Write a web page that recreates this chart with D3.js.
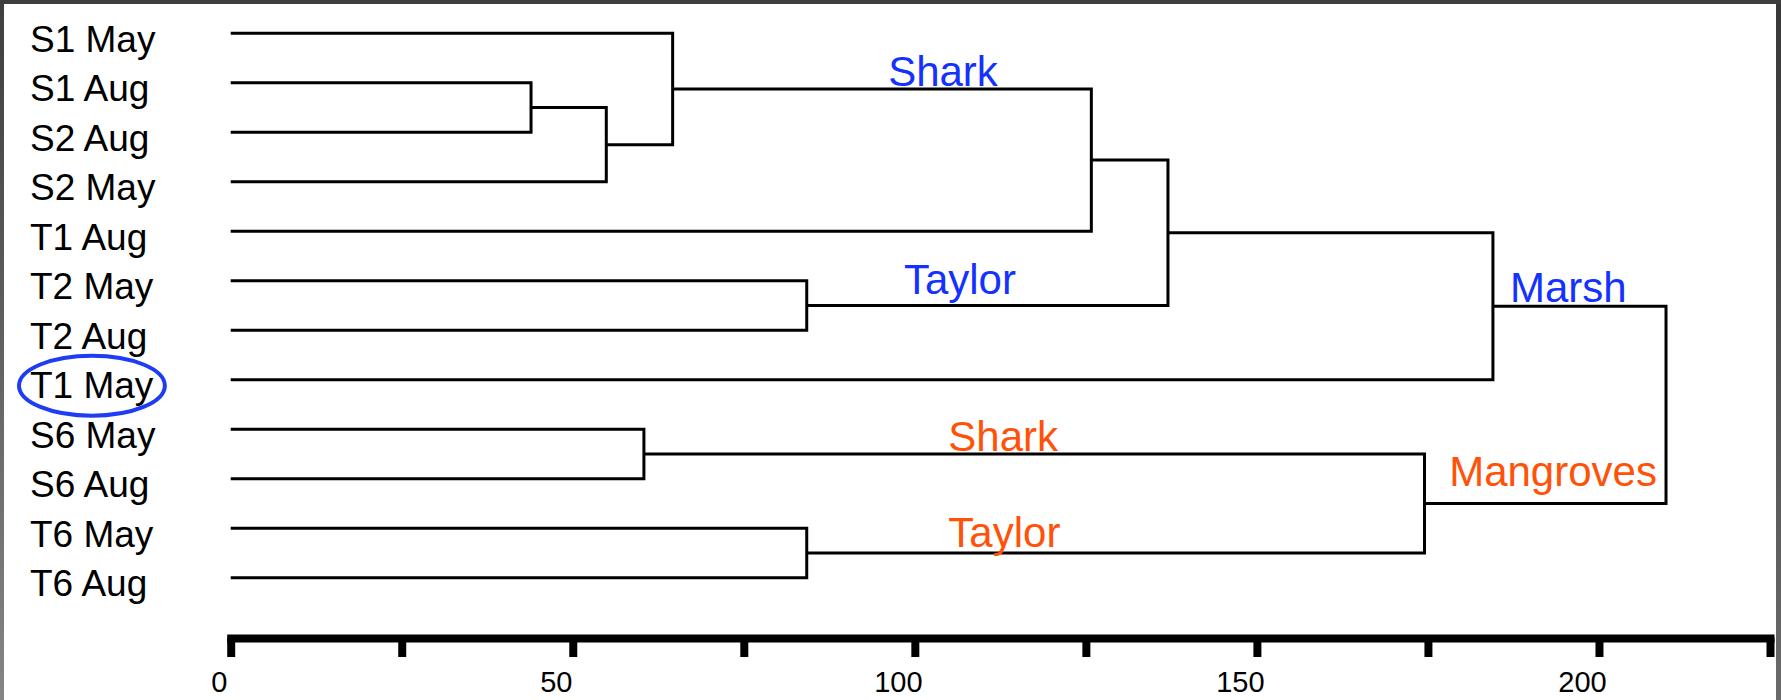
<!DOCTYPE html>
<html><head><meta charset="utf-8">
<script src="https://cdn.jsdelivr.net/npm/d3@7"></script>
<style>html,body{margin:0;padding:0;background:#fff;overflow:hidden;} svg{display:block;}</style>
</head><body>
<svg id="chart" width="1781" height="700"></svg>
<script>
// ---- data ----
const leaves = ["S1 May","S1 Aug","S2 Aug","S2 May","T1 Aug","T2 May","T2 Aug","T1 May","S6 May","S6 Aug","T6 May","T6 Aug"];
// merges (ids >= leaves.length refer to earlier merges)
const mergeA = [1, 12, 0, 14, 5, 15, 17, 8, 10, 19, 18];
const mergeB = [2, 3, 13, 4, 6, 16, 7, 9, 11, 20, 21];
const mergeHeight = [43.9, 54.9, 64.6, 125.8, 84.2, 137.0, 184.5, 60.4, 84.2, 174.5, 209.8];
const axisTicks = [0, 25, 50, 75, 100, 125, 150, 175, 200, 225];
const axisLabels = ["0", "", "50", "", "100", "", "150", "", "200", ""];
const groupNames = ["Shark", "Taylor", "Marsh", "Shark", "Taylor", "Mangroves"];
const groupHabitat = ["marsh", "marsh", "marsh", "mangrove", "mangrove", "mangrove"];
const groupAtValue = [96.1, 98.4, 187.0, 104.9, 104.9, 178.1];
const groupAtLeaf = [1.065, 5.274, 5.43, 8.44, 10.386, 9.147];
const highlightedLeaf = "T1 May";

// ---- layout ----
const W = 1781, H = 700;
const svg = d3.select("#chart");
const font = "'Liberation Sans', Arial, Helvetica, sans-serif";
const colors = {marsh: "#1432ff", mangrove: "#ff5208"};

svg.append("rect").attr("width", W).attr("height", H).attr("fill", "#fff");

const x = d3.scaleLinear().domain([0, 225]).range([230.7, 1770]);
const y = d3.scaleLinear().domain([0, leaves.length - 1]).range([33.3, 577.7]);

const n = leaves.length;
const nodeH = leaves.map(() => 0);
const nodeY = leaves.map((d, i) => y(i));
mergeHeight.forEach((h, k) => {
  nodeH[n + k] = h;
  nodeY[n + k] = (nodeY[mergeA[k]] + nodeY[mergeB[k]]) / 2;
});

const g = svg.append("g");
g.selectAll("path.link").data(mergeHeight).join("path")
  .attr("class", "link")
  .attr("d", (h, k) => {
    const a = mergeA[k], b = mergeB[k];
    return `M${x(nodeH[a])},${nodeY[a]}H${x(h)}V${nodeY[b]}H${x(nodeH[b])}`;
  })
  .attr("fill", "none").attr("stroke", "#000").attr("stroke-width", 3);

// leaf labels
const lbl = svg.append("g").selectAll("text").data(leaves).join("text")
  .attr("x", 30).attr("y", (d, i) => y(i) + 18.5)
  .attr("font-family", font).attr("font-size", 37).attr("fill", "#000")
  .text(d => d);

// highlight ellipse
lbl.filter(d => d === highlightedLeaf).each(function(d) {
  const bb = this.getBBox();
  const i = leaves.indexOf(d);
  svg.append("ellipse")
    .attr("cx", bb.x + bb.width / 2).attr("cy", y(i) + 6)
    .attr("rx", bb.width / 2 + 11).attr("ry", 30)
    .attr("fill", "none").attr("stroke", "#1f3cf5").attr("stroke-width", 4);
});

// group labels
svg.append("g").selectAll("text").data(groupNames).join("text")
  .attr("x", (d, i) => x(groupAtValue[i]))
  .attr("y", (d, i) => y(groupAtLeaf[i]))
  .attr("font-family", font).attr("font-size", 42)
  .attr("fill", (d, i) => colors[groupHabitat[i]])
  .text(d => d);

// axis
const ax = svg.append("g").attr("transform", "translate(0,638)")
  .call(d3.axisBottom(x).tickValues(axisTicks).tickSize(19).tickSizeOuter(0)
    .tickFormat((d, i) => axisLabels[i]));
ax.attr("font-size", 29).attr("font-family", font);
ax.select(".domain").attr("stroke", "#000").attr("stroke-width", 8).attr("stroke-linecap", "square");
ax.selectAll(".tick line").attr("stroke", "#000").attr("stroke-width", 8);
ax.selectAll(".tick text").attr("y", 54).attr("dy", 0).attr("dx", (d) => d === 0 ? -12 : -17)
  .attr("font-family", font).attr("font-size", 29).attr("fill", "#000");

// window frame
const defs = svg.append("defs");
const lg = defs.append("linearGradient").attr("id", "lgl").attr("x1", 0).attr("y1", 0).attr("x2", 0).attr("y2", 1);
lg.append("stop").attr("offset", 0).attr("stop-color", "#3e3e3e");
lg.append("stop").attr("offset", 1).attr("stop-color", "#858585");
const rg = defs.append("linearGradient").attr("id", "lgr").attr("x1", 0).attr("y1", 0).attr("x2", 0).attr("y2", 1);
rg.append("stop").attr("offset", 0).attr("stop-color", "#383838");
rg.append("stop").attr("offset", 1).attr("stop-color", "#6a6a6a");
svg.append("rect").attr("x", 0).attr("y", 0).attr("width", 4).attr("height", H).attr("fill", "url(#lgl)");
svg.append("rect").attr("x", 1776).attr("y", 0).attr("width", 5).attr("height", H).attr("fill", "url(#lgr)");
svg.append("rect").attr("x", 0).attr("y", 0).attr("width", W).attr("height", 4).attr("fill", "#3e3e3e");
</script>
</body></html>
